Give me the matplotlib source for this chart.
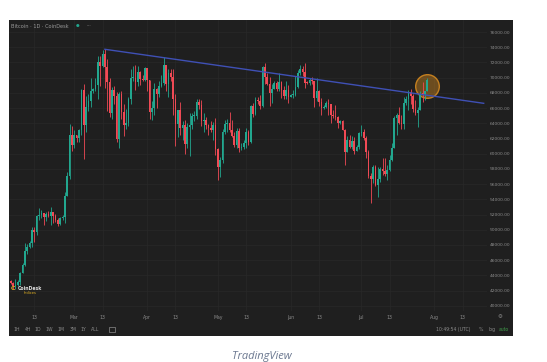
import matplotlib
matplotlib.use("Agg")
import matplotlib.pyplot as plt
import matplotlib.dates as mdates
from matplotlib.patches import Rectangle
import numpy as np
import datetime as dt

# ---- data (daily candles, Feb 2 - Jul 29 2024) ----
start_date = dt.date(2024, 2, 2)
opens = [43080, 43190, 43000, 42580, 42700, 43100, 44340, 45290, 47150, 47770, 48300, 49960, 49700, 51800, 51950, 52150, 51650, 52130, 51780, 52280, 51860, 51320, 50740, 51570, 51730, 54490, 57050, 62500,
         61200, 62400, 62030, 63170, 68330, 63800, 66100, 66930, 68300, 68500, 69020, 72120, 71480, 73080, 71400, 69400, 65300, 68390, 67550, 61910, 67900, 65500, 63800, 64100, 67200, 69960, 69990, 69450, 70780, 69890, 69650,
         71300, 69650, 65460, 65980, 68500, 67840, 68900, 69360, 71620, 69140, 70580, 70060, 67190, 63920, 65740, 63420, 63810, 61280, 63470, 63820, 64940, 64940, 66840, 66410, 64280, 64500, 63760, 63420, 63110, 63840,
         60640, 58250, 59120, 62890, 63890, 64030, 63160, 62330, 61190, 63050, 60790, 60820, 61470, 62900, 61550, 66270, 65230, 67050, 66940, 66270, 71450, 70140, 69120, 67930, 68530, 69280, 68500, 69390, 68360, 67630, 68350,
         67490, 67700, 67750, 68800, 70560, 71080, 70760, 69340, 69300, 69650, 69500, 67320, 68240, 66750, 66010, 66190, 66640, 66490, 65150, 64960, 64830, 64100, 64260, 63180, 60280, 61800, 60860, 61700, 60320, 60890,
         62680, 62850, 62030, 60200, 57030, 56660, 58230, 55850, 56700, 58000, 57720, 57340, 57900, 59200, 60790, 64720, 65040, 64090, 63970, 66700, 67150, 68160, 67590, 65940, 65370, 65800, 67900, 67830, 68250]
highs = [43420, 43380, 43120, 43500, 43400, 44400, 45600, 48200, 48150, 48550, 50300, 50360, 52000, 52820, 52550, 52200, 52350, 52480, 52960, 52370, 52030, 51550, 51680, 51950, 54900, 57560, 63900, 63680,
         63100, 62450, 63200, 68500, 69200, 67600, 67900, 69900, 68600, 70000, 72800, 72900, 73600, 73750, 72400, 70000, 68800, 68900, 68100, 68100, 68200, 66600, 65900, 67500, 71100, 71500, 71700, 71500, 70900, 70300, 71400,
         71300, 69650, 66900, 69300, 68700, 69600, 70300, 72700, 71700, 71100, 71200, 71200, 67900, 65800, 66800, 64300, 64500, 64100, 65400, 65400, 65600, 67200, 67200, 67100, 65300, 64800, 63900, 64300, 64200, 64700,
         60800, 59600, 63300, 64500, 64600, 65500, 64400, 62900, 63400, 63400, 61400, 61800, 63400, 63100, 66400, 66700, 67400, 67400, 67700, 71500, 71900, 70600, 70100, 69200, 69500, 69500, 70600, 69500, 68900, 69500,
         69000, 67800, 68400, 70200, 71000, 71700, 71600, 71900, 69600, 69900, 70100, 69600, 69900, 68400, 67300, 66400, 66900, 67200, 66600, 65700, 66400, 65000, 64500, 64500, 63300, 62300, 62400, 62300, 62200, 61200,
         62900, 63800, 63300, 62300, 60500, 57500, 58500, 58500, 58200, 58300, 59400, 59500, 58500, 59800, 61400, 64900, 65400, 66100, 65100, 67400, 67600, 68400, 68500, 67800, 67100, 66100, 68200, 69400, 68300, 69900]
lows = [42580, 42900, 42250, 42260, 42590, 42700, 44330, 45250, 46800, 47560, 47710, 48350, 49270, 51310, 51600, 50670, 51200, 51630, 50650, 50830, 50950, 50550, 50590, 51300, 50900, 54450, 56700, 60400,
        60800, 61600, 61500, 62400, 59300, 62800, 65600, 66200, 68000, 68250, 67250, 68900, 71350, 68600, 65600, 64800, 64600, 66600, 61500, 60800, 64600, 62300, 63300, 63700, 66500, 69500, 68400, 68900, 69100, 69600, 69600,
        68200, 64600, 64500, 65100, 66000, 67500, 68800, 69100, 68300, 67500, 69600, 65100, 61000, 62200, 62500, 61800, 60000, 60800, 59700, 63200, 64300, 64600, 65900, 63700, 62800, 63300, 62400, 62800, 61800, 59800,
        56600, 56900, 58800, 62600, 62900, 62800, 62200, 60900, 60700, 60200, 60500, 60600, 60800, 61200, 61400, 64800, 65100, 66600, 65900, 66100, 69200, 69100, 66300, 66700, 68500, 68200, 68300, 67300, 67200, 67200,
        66700, 67400, 67300, 67600, 68600, 70300, 70200, 68600, 69200, 69100, 69200, 66100, 66900, 66300, 65100, 65900, 66000, 65100, 64100, 64700, 64500, 63400, 63900, 63200, 58500, 60200, 60700, 60600, 60000, 60300,
        60600, 62300, 61800, 59500, 56800, 53500, 56100, 55800, 54300, 56300, 57200, 57100, 56600, 57700, 59100, 60700, 62400, 63900, 63200, 63300, 66400, 65800, 66600, 65500, 65100, 63500, 65700, 66800, 67100, 68200]
closes = opens[1:] + [69700]

# trend line and highlight
trend_dates = [dt.date(2024, 3, 14), dt.date(2024, 8, 22)]
trend_prices = [73740, 66630]
circle_date = dt.date(2024, 7, 29)
circle_price = 68900

price_ticks = list(range(40000, 78000, 2000))
date_ticks = [dt.date(2024, 2, 13), dt.date(2024, 3, 1), dt.date(2024, 3, 13), dt.date(2024, 4, 1),
              dt.date(2024, 4, 13), dt.date(2024, 5, 1), dt.date(2024, 5, 13), dt.date(2024, 6, 1),
              dt.date(2024, 6, 13), dt.date(2024, 7, 1), dt.date(2024, 7, 13), dt.date(2024, 8, 1),
              dt.date(2024, 8, 13)]
date_labels = ["13", "Mar", "13", "Apr", "13", "May", "13", "Jun", "13", "Jul", "13", "Aug", "13"]
intervals = ["1H", "4H", "1D", "1W", "1M", "3M", "1Y", "ALL"]

# ---- figure ----
W, H = 547, 362
fig = plt.figure(figsize=(W / 100, H / 100), dpi=100)
fig.patch.set_facecolor("white")

def fx(x):
    return x / W

def fy(y):
    return 1 - y / H

BG = "#1f1f1f"
TXT = "#8c8c8c"
fig.patches.append(Rectangle((fx(9), fy(336)), fx(513) - fx(9), fy(20) - fy(336),
                             transform=fig.transFigure, facecolor=BG, edgecolor="none", zorder=-5))

ax = fig.add_axes([fx(9), fy(311), fx(487) - fx(9), fy(20) - fy(311)])
ax.set_zorder(1)
ax.set_facecolor(BG)
for s in ax.spines.values():
    s.set_visible(False)

n = len(opens)
dates = [start_date + dt.timedelta(days=i) for i in range(n)]
xd = mdates.date2num(dates)
o = np.array(opens, float)
c = np.array(closes, float)
h = np.array(highs, float)
l = np.array(lows, float)
h = np.maximum(h, np.maximum(o, c))
l = np.minimum(l, np.minimum(o, c))
up = c >= o
GREEN, RED = "#22a78f", "#f04a55"
cols = np.where(up, GREEN, RED)

ax.vlines(xd, l, h, colors=cols, linewidth=0.6, zorder=3)
body_bottom = np.minimum(o, c)
body_h = np.maximum(np.abs(c - o), 120)
ax.bar(xd, body_h, bottom=body_bottom, width=0.7, color=cols, linewidth=0, zorder=4)

ax.plot(mdates.date2num(trend_dates), trend_prices, color="#3f50b5", linewidth=1.0, zorder=5)
ax.scatter([mdates.date2num(circle_date)], [circle_price], s=290,
           facecolor=(0.80, 0.52, 0.12, 0.45), edgecolor=(0.85, 0.55, 0.12, 0.85),
           linewidth=1.0, zorder=2.5)

x0 = mdates.date2num(dt.date(2024, 3, 1))
ax.set_xlim(x0 - 27.75, x0 + 175.4)
ax.set_ylim(39303, 77592)

ax.set_yticks(price_ticks)
ax.set_yticklabels([f"{p}.00" for p in price_ticks])
ax.yaxis.tick_right()
ax.tick_params(axis="y", length=0, pad=2.2, labelsize=3.2, labelcolor=TXT)
ax.set_xticks(mdates.date2num(date_ticks))
ax.set_xticklabels(date_labels)
ax.tick_params(axis="x", length=0, pad=3.0, labelsize=3.3, labelcolor=TXT)
ax.grid(True, color="#292929", linewidth=0.5, zorder=0)
ax.set_axisbelow(True)

# header
fig.text(fx(11), fy(26), "Bitcoin · 1D · CoinDesk", fontsize=3.6, color="#9a9a9a", va="center", ha="left")
fig.text(fx(77.7), fy(26), "●", fontsize=3.0, color=GREEN, va="center", ha="center")
fig.text(fx(89), fy(25.5), "···", fontsize=3.6, color="#8a8a8a", va="center", ha="center")

# CoinDesk logo
fig.text(fx(13), fy(289), "C", fontsize=4.5, color="#e5b323", va="center", ha="center", fontweight="bold")
fig.text(fx(18), fy(288), "CoinDesk", fontsize=3.3, color="#e0e0e0", va="center", ha="left", fontweight="bold")
fig.text(fx(37), fy(293), "Indices", fontsize=2.6, color="#e5b323", va="center", ha="right")

# bottom toolbar
for lbl, xp in zip(intervals, [16.3, 27.7, 38, 49.3, 61, 72.7, 83.7, 95]):
    fig.text(fx(xp), fy(329.5), lbl, fontsize=3.3, color=TXT, va="center", ha="center")
fig.patches.append(Rectangle((fx(109), fy(332)), fx(6), fy(327) - fy(332), transform=fig.transFigure,
                             facecolor="none", edgecolor=TXT, linewidth=0.5))
fig.text(fx(453.3), fy(329.5), "10:49:54 (UTC)", fontsize=3.3, color=TXT, va="center", ha="center")
fig.text(fx(481.3), fy(329.5), "%", fontsize=3.3, color=TXT, va="center", ha="center")
fig.text(fx(491.7), fy(329.5), "log", fontsize=3.3, color=TXT, va="center", ha="center")
fig.text(fx(504.3), fy(329.5), "auto", fontsize=3.3, color="#3f9a4a", va="center", ha="center")
fig.text(fx(500), fy(317), "⚙", fontsize=4.0, color=TXT, va="center", ha="center")

# caption
fig.text(fx(262), fy(356), "TradingView", fontsize=8, color="#6b7890", style="italic",
         va="center", ha="center", family=["Open Sans", "DejaVu Sans"])

fig.savefig("out.png", dpi=100, facecolor="white")
